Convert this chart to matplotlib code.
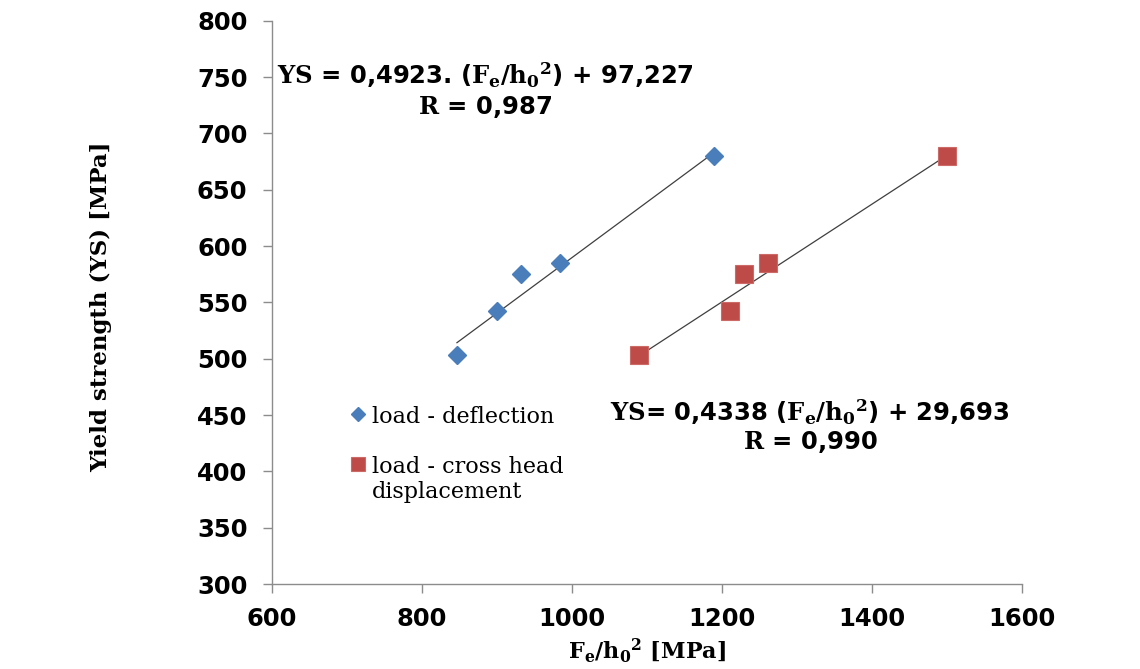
import matplotlib
matplotlib.use("Agg")
import matplotlib.pyplot as plt
import numpy as np

# data
ys = [503, 542, 575, 585, 680]
x_deflection = [847, 901, 933, 984, 1190]
x_crosshead = [1090, 1211, 1230, 1262, 1501]

# trendline coefficients as printed on the chart
fit_deflection = (0.4923, 97.227)
fit_crosshead = (0.4338, 29.693)

plt.rcParams['mathtext.fontset'] = 'dejavuserif'
plt.rcParams['mathtext.default'] = 'bf'

blue = '#4A7EBB'
red = '#BE4B48'
axis_grey = '#8C8C8C'

fig = plt.figure(figsize=(11.4, 6.69), dpi=100)
ax = fig.add_axes([271.7 / 1140, 85 / 669, 750 / 1140, 563.3 / 669])

# trend lines
for xs, (m, b) in [(x_deflection, fit_deflection), (x_crosshead, fit_crosshead)]:
    xl = np.array([min(xs), max(xs)])
    ax.plot(xl, m * xl + b, color='#3F3F3F', lw=0.9, zorder=2)

ax.plot(x_deflection, ys, linestyle='none', marker='D', markersize=9,
        color=blue, markeredgecolor=blue, label='load - deflection', zorder=3)
ax.plot(x_crosshead, ys, linestyle='none', marker='s', markersize=12.5,
        color=red, markeredgecolor='#CC6A67', markeredgewidth=0.8,
        label='load - cross head\ndisplacement', zorder=3)

ax.set_xlim(600, 1600)
ax.set_ylim(300, 800)
ax.set_xticks(range(600, 1601, 200))
ax.set_yticks(range(300, 801, 50))

for s in ['top', 'right']:
    ax.spines[s].set_visible(False)
for s in ['left', 'bottom']:
    ax.spines[s].set_color(axis_grey)
    ax.spines[s].set_linewidth(1.0)

ax.tick_params(axis='both', direction='out', length=6.5, width=1.0,
               color=axis_grey, labelsize=17.5)
ax.tick_params(axis='y', pad=11)
ax.tick_params(axis='x', pad=10)
for lbl in ax.get_xticklabels() + ax.get_yticklabels():
    lbl.set_fontweight('bold')
    lbl.set_family('DejaVu Sans')

# axis titles
fig.text(101 / 1140, 1 - 307 / 669, 'Yield strength (YS) [MPa]', rotation=90,
         ha='center', va='center', family='DejaVu Serif', fontweight='bold',
         fontsize=16.5)
fig.text(647 / 1140, 1 - 651 / 669, r'$F_e/h_0$$^2$ [MPa]', ha='center',
         va='center', family='DejaVu Serif', fontweight='bold', fontsize=16)

# equations
eq_kw = dict(transform=ax.transAxes, ha='center', va='center',
             family='DejaVu Sans', fontweight='bold', fontsize=17.5)
ax.text(0.285, 0.9036, r'$YS$ = 0,4923. ($F_e/h_0$$^2$) + 97,227', **eq_kw)
ax.text(0.285, 0.8468, r'$R$ = 0,987', **eq_kw)
ax.text(0.7177, 0.3053, r'$YS$= 0,4338 ($F_e/h_0$$^2$) + 29,693', **eq_kw)
ax.text(0.7177, 0.2521, r'$R$ = 0,990', **eq_kw)

leg = ax.legend(loc='upper left', bbox_to_anchor=(0.105, 0.316), frameon=False,
                prop={'family': 'DejaVu Serif', 'size': 16},
                markerscale=0.75, handlelength=0.65, handletextpad=0.3,
                labelspacing=1.25, borderpad=0, borderaxespad=0)
for col in leg._legend_handle_box.get_children():
    for row in col.get_children():
        row.align = 'top'

fig.savefig('out.png', dpi=100)
